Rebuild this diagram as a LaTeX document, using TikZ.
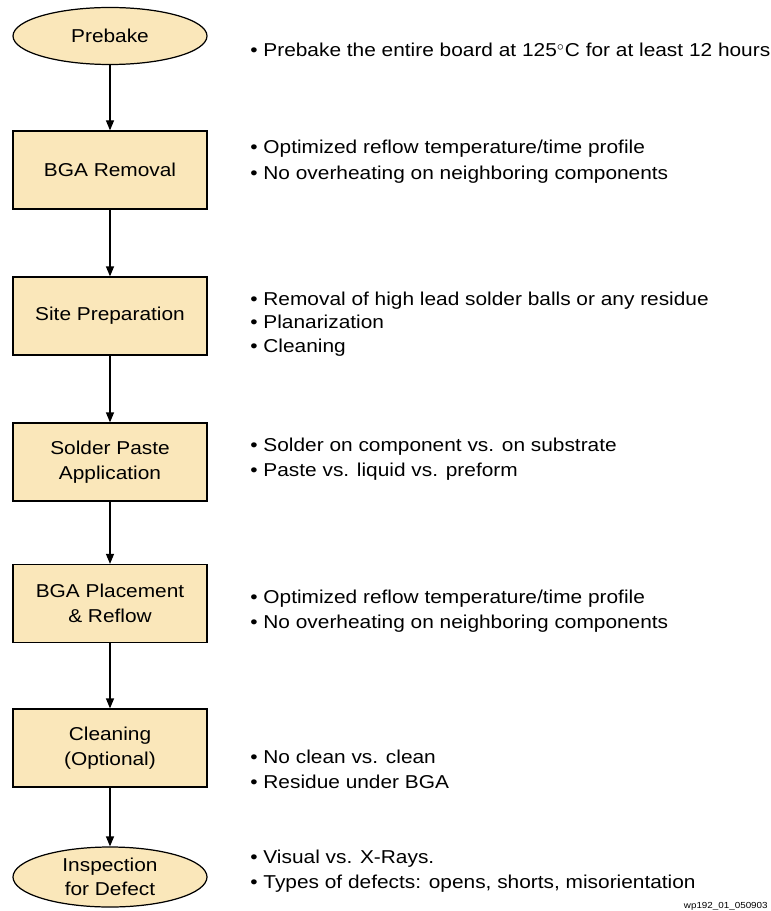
\documentclass[tikz,border=0pt]{standalone}
\usepackage{fontspec}
\setmainfont[FakeStretch=1.12]{Liberation Sans}
\usepackage{xcolor}
\usepackage{tikz}
\usetikzlibrary{shapes.geometric,arrows.meta}
\definecolor{stepfill}{RGB}{250,231,186}

\begin{document}
\begin{tikzpicture}[
        every node/.style={font=\fontsize{10.6pt}{13.9pt}\selectfont},
        stepbox/.style={draw, line width=0.7pt, fill=stepfill, minimum width=3.88cm, minimum height=1.56cm, align=center},
        endbox/.style={draw, line width=0.7pt, fill=stepfill, ellipse, inner sep=0pt, minimum width=3.88cm, minimum height=1.14cm, align=center},
        note/.style={anchor=base west, inner sep=0pt},
        flow/.style={line width=0.7pt, -{Triangle[length=0.2cm,width=0.16cm]}}
    ]
        \useasboundingbox (0,0) rectangle (15.42,-18.22);

        \node[endbox] (prebake) at (2.2,-0.72) {Prebake};
        \node[stepbox] (removal) at (2.2,-3.40) {BGA Removal};
        \node[stepbox] (site) at (2.2,-6.32) {Site Preparation};
        \node[stepbox] (paste) at (2.2,-9.24) {Solder Paste\\Application};
        \node[stepbox] (place) at (2.2,-12.07) {BGA Placement\\\& Reflow};
        \node[stepbox] (clean) at (2.2,-14.96) {Cleaning\\(Optional)};
        \node[endbox, minimum height=1.2cm] (inspect) at (2.2,-17.54) {Inspection\\for Defect};

        \draw[flow] (prebake) -- (removal);
        \draw[flow] (removal) -- (site);
        \draw[flow] (site) -- (paste);
        \draw[flow] (paste) -- (place);
        \draw[flow] (place) -- (clean);
        \draw[flow] (clean) -- (inspect);

        \node[note] (prebake-a) at (5.0,-1.14) {•\ Prebake the entire board at 125$^{\circ}$C for at least 12 hours};
        \node[note] (removal-a) at (5.0,-3.08) {•\ Optimized reflow temperature/time profile};
        \node[note] (removal-b) at (5.0,-3.58) {•\ No overheating on neighboring components};
        \node[note] (site-a) at (5.0,-6.10) {•\ Removal of high lead solder balls or any residue};
        \node[note] (site-b) at (5.0,-6.57) {•\ Planarization};
        \node[note] (site-c) at (5.0,-7.04) {•\ Cleaning};
        \node[note] (paste-a) at (5.0,-9.02) {•\ Solder on component vs. on substrate};
        \node[note] (paste-b) at (5.0,-9.52) {•\ Paste vs. liquid vs. preform};
        \node[note] (place-a) at (5.0,-12.07) {•\ Optimized reflow temperature/time profile};
        \node[note] (place-b) at (5.0,-12.56) {•\ No overheating on neighboring components};
        \node[note] (clean-a) at (5.0,-15.27) {•\ No clean vs. clean};
        \node[note] (clean-b) at (5.0,-15.76) {•\ Residue under BGA};
        \node[note] (inspect-a) at (5.0,-17.26) {•\ Visual vs. X-Rays.};
        \node[note] (inspect-b) at (5.0,-17.76) {•\ Types of defects: opens, shorts, misorientation};

        \node[anchor=base east, inner sep=0pt, font=\fontsize{5pt}{6pt}\selectfont] (tag) at (15.36,-18.17) {wp192\_01\_050903};
    \end{tikzpicture}
\end{document}
